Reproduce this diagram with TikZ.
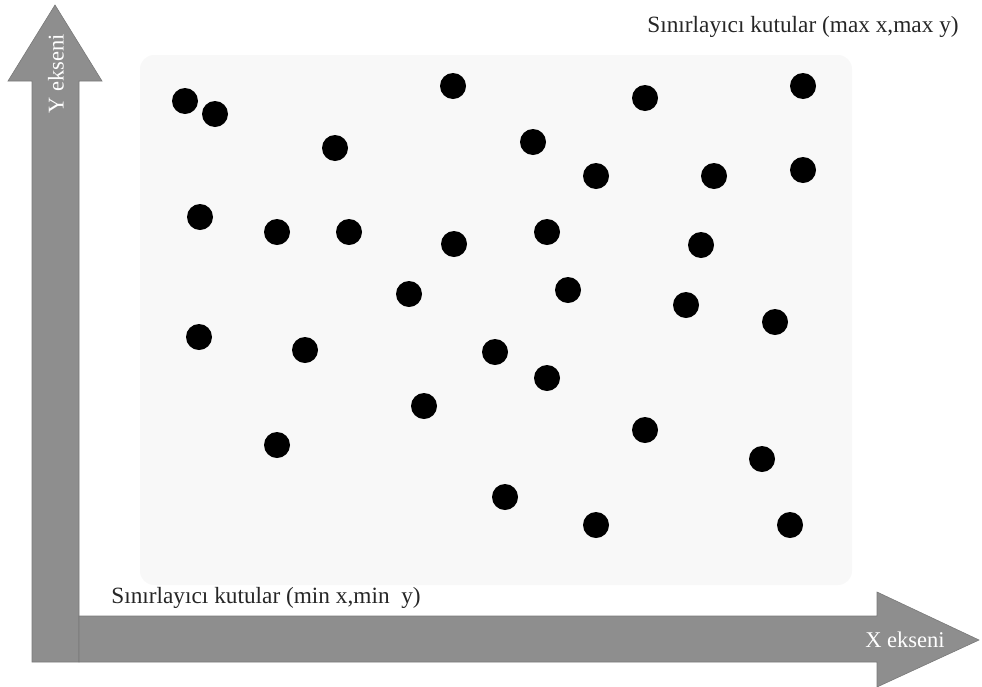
\documentclass[tikz,border=0pt]{standalone}
\usepackage{fontspec}
\setmainfont{Liberation Serif}
\begin{document}
\begin{tikzpicture}[x=1pt,y=-1pt,
  dot/.style={circle,fill=black,inner sep=0pt,minimum size=26pt},
  axisarrow/.style={fill=axisgray,draw=axisgray!85!black,line width=0.6pt},
  axislabel/.style={text=white,font=\fontsize{22.5}{25}\selectfont},
  boxlabel/.style={text=black!85,font=\fontsize{23.3}{26}\selectfont}]
\definecolor{axisgray}{HTML}{8E8E8E}
\definecolor{boxgray}{HTML}{F8F8F8}
\useasboundingbox (0,0) rectangle (982,686);
% bounding box area
\fill[boxgray,rounded corners=14pt] (140,55) rectangle (852,585);
% Y axis
\path[axisarrow] (32,662) -- (32,81) -- (8,81) -- (55,5) -- (102,81) -- (79,81) -- (79,662) -- cycle;
% X axis
\path[axisarrow] (79,616) -- (877,616) -- (877,592) -- (979,640) -- (877,687) -- (877,662) -- (79,662) -- cycle;
\node[axislabel,rotate=90] (ylab) at (56,74) {Y ekseni};
\node[axislabel] (xlab) at (905,640) {X ekseni};
\node[boxlabel] (maxlab) at (803,27) {Sınırlayıcı kutular (max x,max y)};
\node[boxlabel] (minlab) at (266,598) {Sınırlayıcı kutular (min x,min\ \ y)};
% points
\foreach \px/\py [count=\i] in {185/101,215/114,453/86,645/98,803/86,335/148,533/142,596/176,714/176,803/170,200/217,277/232,349/232,454/244,547/232,701/245,409/294,568/290,686/305,775/322,199/337,305/350,495/352,547/378,424/406,645/430,277/445,762/459,505/497,596/525,790/525}
  \node[dot] (p\i) at (\px,\py) {};
\end{tikzpicture}
\end{document}
